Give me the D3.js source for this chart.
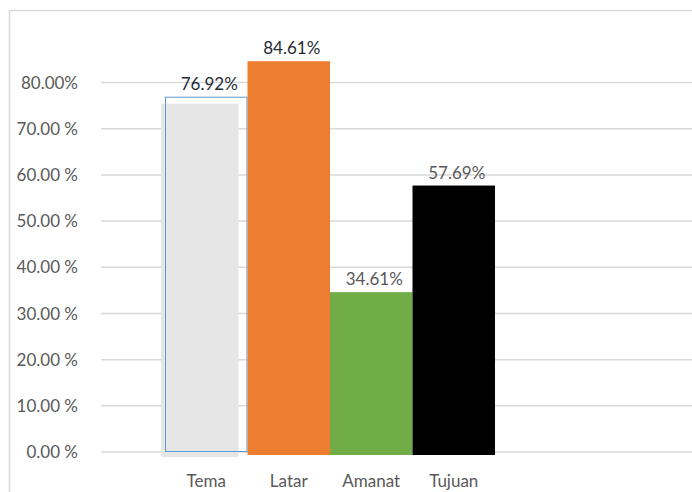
<!DOCTYPE html>
<html>
<head>
<meta charset="utf-8">
<script src="https://cdn.jsdelivr.net/npm/d3@7"></script>
<style>
  html, body { margin: 0; padding: 0; background: #fff; }
  svg { display: block; }
  text { font-family: Lato, "Open Sans", sans-serif; }
</style>
</head>
<body>
<svg id="chart" width="692" height="492"></svg>
<script>
// Unsur cerita: persentase per kategori
const categories = ["Tema", "Latar", "Amanat", "Tujuan"];
const values = [76.92, 84.61, 34.61, 57.69];
const valueLabels = ["76.92%", "84.61%", "34.61%", "57.69%"];
const barColors = ["#e7e6e6", "#ed7d31", "#70ad47", "#000000"];
const labelColors = ["#262b33", "#262b33", "#595959", "#595959"];
const tickValues = [0, 10, 20, 30, 40, 50, 60, 70, 80];
const tickLabels = ["0.00 %", "10.00 %", "20.00 %", "30.00 %", "40.00 %", "50.00 %", "60.00 %", "70.00 %", "80.00%"];

const W = 692, H = 492;
const svg = d3.select("#chart");

const y = d3.scaleLinear().domain([0, 80]).range([452, 82.5]);
const x = d3.scaleBand().domain(categories).range([165, 495]).padding(0);

// chart frame (top and left edges)
svg.append("path")
  .attr("d", `M9.5,${H} V10.5 H${W}`)
  .attr("fill", "none")
  .attr("stroke", "#d9d9d9")
  .attr("stroke-width", 1.5);

// gridlines
svg.append("g")
  .selectAll("line")
  .data(tickValues)
  .join("line")
  .attr("x1", 101)
  .attr("x2", W)
  .attr("y1", d => y(d))
  .attr("y2", d => y(d))
  .attr("stroke", "#d9d9d9")
  .attr("stroke-width", 1.5);

// y tick labels
svg.append("g")
  .selectAll("text")
  .data(tickValues)
  .join("text")
  .attr("x", 78)
  .attr("y", d => y(d))
  .attr("dy", "0.36em")
  .attr("text-anchor", "end")
  .attr("fill", "#595959")
  .attr("font-size", 17)
  .text((d, i) => tickLabels[i]);

// bars
const bars = svg.append("g");
categories.forEach((c, i) => {
  const x0 = x(c), bw = x.bandwidth(), top = y(values[i]);
  if (i === 0) {
    // light fill, shifted slightly left/down, with a blue outline on top
    bars.append("rect")
      .attr("x", x0 - 4)
      .attr("y", top + 7)
      .attr("width", bw - 5)
      .attr("height", y(0) + 5 - (top + 7))
      .attr("fill", barColors[i]);
    bars.append("rect")
      .attr("x", x0 + 0.5)
      .attr("y", top + 0.5)
      .attr("width", bw - 1)
      .attr("height", y(0) - 1 - top)
      .attr("fill", "none")
      .attr("stroke", "#5b9bd5")
      .attr("stroke-width", 1);
  } else {
    bars.append("rect")
      .attr("x", x0)
      .attr("y", top)
      .attr("width", bw)
      .attr("height", y(0) + 3 - top)
      .attr("fill", barColors[i]);
  }
});

// value labels
svg.append("g")
  .selectAll("text")
  .data(categories)
  .join("text")
  .attr("x", d => x(d) + x.bandwidth() / 2 + 3)
  .attr("y", (d, i) => y(values[i]) - 7)
  .attr("text-anchor", "middle")
  .attr("fill", (d, i) => labelColors[i])
  .attr("font-size", 17)
  .text((d, i) => valueLabels[i]);

// category labels
svg.append("g")
  .selectAll("text")
  .data(categories)
  .join("text")
  .attr("x", d => x(d) + x.bandwidth() / 2)
  .attr("y", 487)
  .attr("text-anchor", "middle")
  .attr("fill", "#595959")
  .attr("font-size", 17)
  .text(d => d);
</script>
</body>
</html>
